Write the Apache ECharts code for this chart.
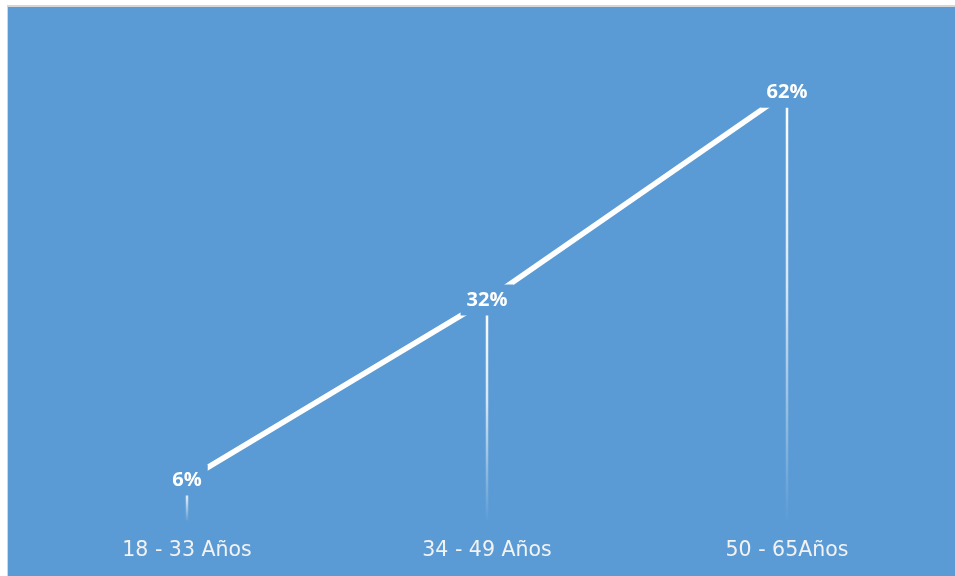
<!DOCTYPE html>
<html>
<head>
<meta charset="utf-8">
<script src="https://cdn.jsdelivr.net/npm/echarts@6/dist/echarts.min.js"></script>
<style>
  html, body { margin: 0; padding: 0; background: #ffffff; width: 955px; height: 576px; overflow: hidden; }
  #frame { position: absolute; left: 7px; top: 5px; width: 960px; height: 580px;
           border-top: 2px solid #d6d6d6; border-left: 1px solid #d6d6d6; background: #5B9BD5; }
  #chart { position: absolute; left: 0; top: 0; width: 947px; height: 569px; }
</style>
</head>
<body>
<div id="frame"><div id="chart"></div></div>
<script>
// Age groups and share of respondents (%)
const categories = ['18 - 33 Años', '34 - 49 Años', '50 - 65Años'];
const values = [6, 32, 62];

const blue = '#5B9BD5';
const chart = echarts.init(document.getElementById('chart'));

chart.setOption({
  backgroundColor: blue,
  animation: false,
  grid: { left: 29, right: 18, top: 29.75, bottom: 54.5 },
  xAxis: {
    type: 'category',
    data: categories,
    boundaryGap: true,
    axisLine: { show: false },
    axisTick: { show: false },
    axisLabel: {
      color: '#f2f2f2',
      fontFamily: 'DejaVu Sans',
      fontSize: 20.5,
      margin: 19
    }
  },
  yAxis: {
    type: 'value',
    min: 0,
    max: 70,
    show: false,
    splitLine: { show: false }
  },
  series: [
    {
      // drop lines from each point down to the axis, fading out
      type: 'bar',
      data: values,
      barWidth: 2.5,
      z: 1,
      silent: true,
      itemStyle: {
        color: new echarts.graphic.LinearGradient(0, 0, 0, 1, [
          { offset: 0, color: 'rgba(255,255,255,1)' },
          { offset: 0.45, color: 'rgba(255,255,255,0.75)' },
          { offset: 1, color: 'rgba(255,255,255,0)' }
        ])
      }
    },
    {
      type: 'line',
      data: values,
      z: 3,
      symbol: 'circle',
      symbolSize: 1,
      showSymbol: true,
      itemStyle: { color: 'rgba(255,255,255,0)' },
      lineStyle: { color: '#ffffff', width: 5.5 },
      label: {
        show: true,
        position: 'inside',
        formatter: '{c}%',
        color: '#ffffff',
        fontFamily: 'Open Sans',
        fontWeight: 'bold',
        fontSize: 20,
        backgroundColor: blue,
        padding: [6, 6, 5, 6]
      }
    }
  ]
});
</script>
</body>
</html>
